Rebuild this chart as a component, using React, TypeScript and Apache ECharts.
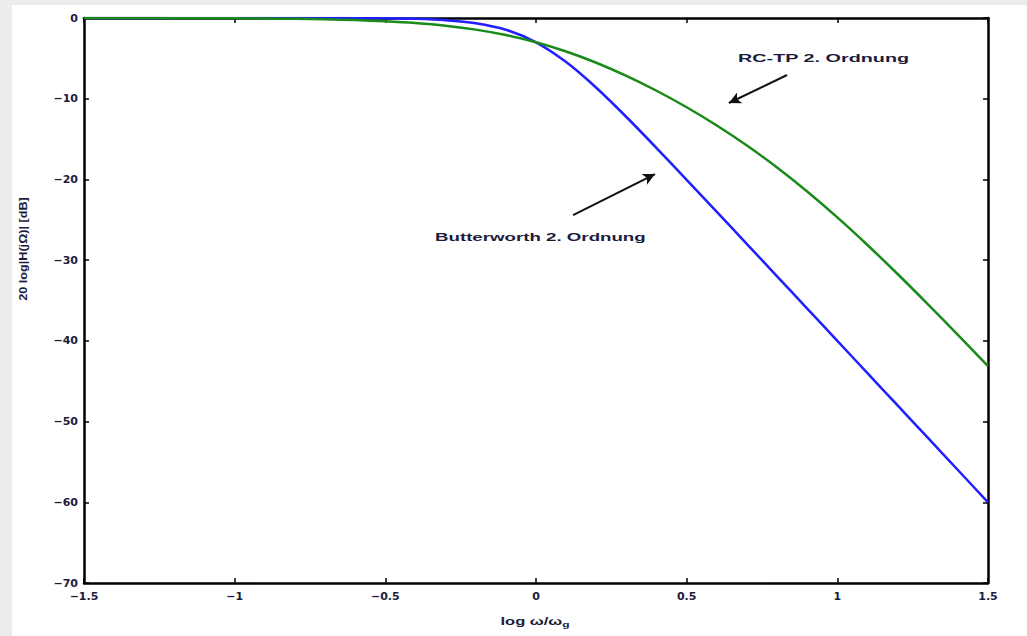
import React, { useEffect, useRef } from "react";
import * as echarts from "echarts";

// log10(omega / omega_g)
const xValues = [
  -1.5, -1.4, -1.3, -1.2, -1.1, -1.0, -0.9, -0.8, -0.7, -0.6, -0.5, -0.4, -0.3, -0.2, -0.1,
  0.0, 0.1, 0.2, 0.3, 0.4, 0.5, 0.6, 0.7, 0.8, 0.9, 1.0, 1.1, 1.2, 1.3, 1.4, 1.5,
];
// Butterworth 2nd order, dB
const butterworth = [
  0, 0, 0, 0, 0, 0, -0.001, -0.003, -0.007, -0.017, -0.043, -0.108, -0.266, -0.64, -1.455,
  -3.01, -5.455, -8.639, -12.266, -16.108, -20.043, -24.017, -28.007, -32.003, -36.001, -40.0,
  -44.0, -48.0, -52.0, -56.0, -60.0,
];
// RC low-pass 2nd order, dB
const rcTp = [
  -0.004, -0.007, -0.011, -0.017, -0.027, -0.042, -0.067, -0.106, -0.166, -0.261, -0.407, -0.629,
  -0.96, -1.441, -2.112, -3.01, -4.155, -5.546, -7.171, -9.013, -11.06, -13.317, -15.798, -18.52,
  -21.49, -24.701, -28.123, -31.717, -35.441, -39.257, -43.138,
];

const seriesNames = ["Butterworth 2. Ordnung", "RC-TP 2. Ordnung"];
const xTitle = "log \u03c9/\u03c9";
const xTitleSub = "g";
const yTitle = "20 log|H(j\u03a9)| [dB]";
// arrow endpoints [from, to] in data coordinates
const rcArrow = [
  [0.833, -7.06],
  [0.64, -10.53],
];
const bwArrow = [
  [0.123, -24.41],
  [0.395, -19.33],
];

const fmt = (v: number) => String(v).replace("-", "\u2212");
const labelColor = "#1c1c3c";
const font = "DejaVu Sans, Arial, sans-serif";
const textFont = "Liberation Sans, Arial, sans-serif";

export default function App() {
  const ref = useRef<HTMLDivElement>(null);
  useEffect(() => {
    if (!ref.current) return;
    const chart = echarts.init(ref.current, undefined, { renderer: "svg" });
    const axisLine = { show: true, onZero: false, lineStyle: { color: "#000", width: 2.5 } };
    const tick = { show: true, inside: true, length: 5, lineStyle: { color: "#000", width: 1.5 } };
    const bw = xValues.map((x, i) => [x, butterworth[i]]);
    const rc = xValues.map((x, i) => [x, rcTp[i]]);
    const lab = {
      formatter: (v: number) => fmt(v),
      color: labelColor,
      fontSize: 11,
      fontWeight: "bold",
      fontFamily: font,
    };
    chart.setOption({
      animation: false,
      backgroundColor: "#ffffff",
      grid: { left: 84, top: 18, width: 904, height: 565, containLabel: false },
      xAxis: [
        {
          type: "value",
          min: -1.5,
          max: 1.5,
          interval: 0.5,
          position: "bottom",
          axisLine,
          axisTick: tick,
          splitLine: { show: false },
          axisLabel: { ...lab, margin: 8 },
        },
        {
          type: "value",
          min: -1.5,
          max: 1.5,
          interval: 0.5,
          position: "top",
          axisLine,
          axisTick: tick,
          axisLabel: { show: false },
          splitLine: { show: false },
        },
      ],
      yAxis: [
        {
          type: "value",
          min: -70,
          max: 0,
          interval: 10,
          position: "left",
          axisLine,
          axisTick: tick,
          splitLine: { show: false },
          axisLabel: { ...lab, margin: 6 },
        },
        {
          type: "value",
          min: -70,
          max: 0,
          interval: 10,
          position: "right",
          axisLine,
          axisTick: tick,
          axisLabel: { show: false },
          splitLine: { show: false },
        },
      ],
      graphic: [
        { type: "rect", left: 0, top: 0, shape: { width: 1027, height: 5 }, style: { fill: "#ececec" }, z: -10 },
        { type: "rect", left: 0, top: 0, shape: { width: 12, height: 636 }, style: { fill: "#ececec" }, z: -10 },
        {
          type: "text",
          x: 738,
          y: 58,
          scaleX: 1.8,
          style: {
            text: seriesNames[1],
            fill: labelColor,
            font: `bold 11px ${textFont}`,
            align: "left",
            verticalAlign: "middle",
          },
        },
        {
          type: "text",
          x: 435,
          y: 237,
          scaleX: 1.7,
          style: {
            text: seriesNames[0],
            fill: labelColor,
            font: `bold 11px ${textFont}`,
            align: "left",
            verticalAlign: "middle",
          },
        },
        {
          type: "text",
          x: 23,
          y: 249,
          rotation: Math.PI / 2,
          scaleX: 1.15,
          style: {
            text: yTitle,
            fill: labelColor,
            font: `bold 11px ${textFont}`,
            align: "center",
            verticalAlign: "middle",
          },
        },
        {
          type: "text",
          x: 535,
          y: 621,
          scaleX: 1.5,
          style: {
            text: `${xTitle}{s|${xTitleSub}}`,
            fill: labelColor,
            font: `bold 11px ${textFont}`,
            align: "center",
            verticalAlign: "middle",
            rich: { s: { fontSize: 8, fontWeight: "bold", fontFamily: textFont, fill: labelColor, padding: [6, 0, 0, 0] } },
          },
        },
      ],
      series: [
        {
          name: seriesNames[0],
          type: "line",
          data: bw,
          smooth: 0.3,
          symbol: "none",
          lineStyle: { color: "#1f1fff", width: 2.5 },
          markLine: {
            silent: true,
            symbol: ["none", "arrow"],
            symbolSize: [9, 12],
            label: { show: false },
            lineStyle: { color: "#111", width: 2, type: "solid" },
            data: [[{ coord: bwArrow[0] }, { coord: bwArrow[1] }]],
          },
        },
        {
          name: seriesNames[1],
          type: "line",
          data: rc,
          smooth: 0.3,
          symbol: "none",
          lineStyle: { color: "#1a8a1a", width: 2.5 },
          markLine: {
            silent: true,
            symbol: ["none", "arrow"],
            symbolSize: [9, 12],
            label: { show: false },
            lineStyle: { color: "#111", width: 2, type: "solid" },
            data: [[{ coord: rcArrow[0] }, { coord: rcArrow[1] }]],
          },
        },
      ],
    });
    return () => chart.dispose();
  }, []);
  return (
    <div
      ref={ref}
      style={{ position: "fixed", left: 0, top: 0, width: 1027, height: 636 }}
    />
  );
}
